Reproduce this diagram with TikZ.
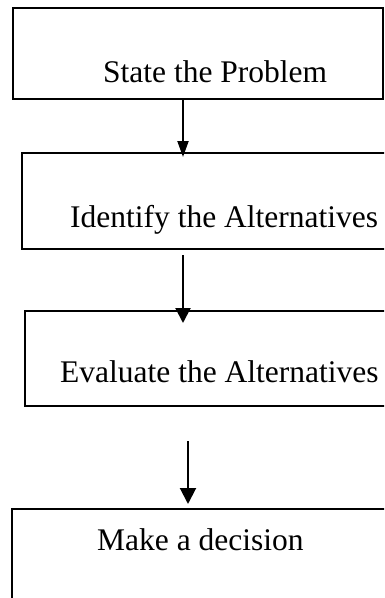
\documentclass[tikz,border=0pt]{standalone}
\usepackage{fontspec}
\setmainfont{Liberation Serif}
\usetikzlibrary{arrows.meta}
\begin{document}
\begin{tikzpicture}[x=1pt,y=-1pt,
  box/.style={draw=black, line width=1.5pt, rectangle},
  lbl/.style={anchor=base west, inner sep=0pt, font=\fontsize{31.5pt}{36pt}\selectfont},
  conn/.style={draw=black, line width=2pt}]
\useasboundingbox (0,0) rectangle (384,598);
\clip (0,0) rectangle (384,598);
\fill[white] (0,0) rectangle (384,598);
% boxes
\draw[box] (13,8) rectangle (383,99);
\draw[box] (22,153) rectangle (410,249);
\draw[box] (25,311) rectangle (410,406);
\draw[box] (12,509) rectangle (410,640);
% texts
\node[lbl] (t1) at (103,82) {State the Problem};
\node[lbl] (t2) at (70,227) {Identify the Alternatives};
\node[lbl] (t3) at (60,382) {Evaluate the Alternatives};
\node[lbl] (t4) at (97,550) {Make a decision};
% connector end points
\coordinate (a1s) at (183,99);
\coordinate (a1e) at (183,157);
\coordinate (a2s) at (183,255);
\coordinate (a2e) at (183,323);
\coordinate (a3s) at (188,441);
\coordinate (a3e) at (188,504);
\draw[conn, -{Triangle[width=11pt,length=16pt]}] (a1s) -- (a1e);
\draw[conn, -{Triangle[width=15pt,length=15pt]}] (a2s) -- (a2e);
\draw[conn, -{Triangle[width=16pt,length=16pt]}] (a3s) -- (a3e);
\end{tikzpicture}
\end{document}
